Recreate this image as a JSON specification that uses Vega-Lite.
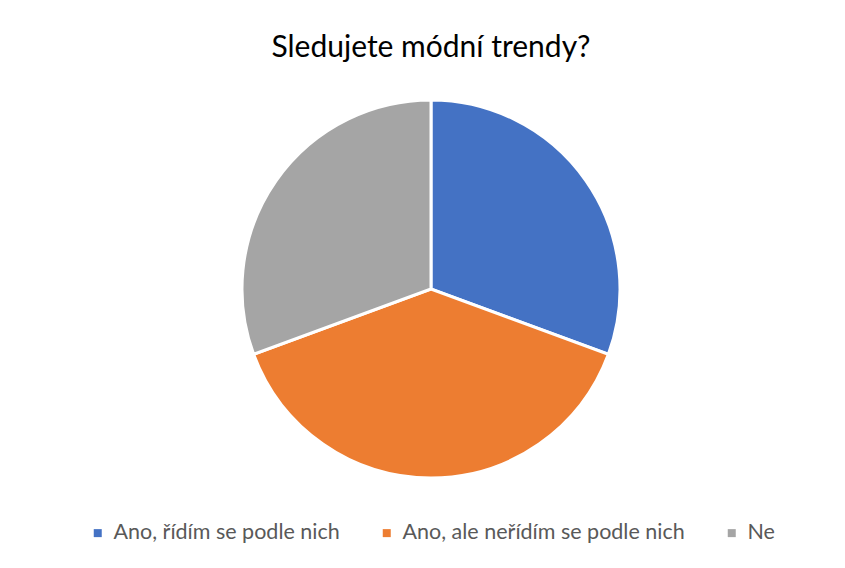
{
  "$schema": "https://vega.github.io/schema/vega-lite/v6.json",
  "autosize": "none",
  "width": 840,
  "height": 563,
  "padding": {"left": 5, "top": 5, "right": 0, "bottom": 0},
  "background": "white",
  "config": {
    "view": {"stroke": "#D9D9D9", "strokeWidth": 1},
    "font": "Lato"
  },
  "title": {
    "text": "Sledujete módní trendy?",
    "frame": "group",
    "anchor": "middle",
    "orient": "top",
    "offset": -58,
    "dx": 6,
    "font": "Lato",
    "fontSize": 30,
    "fontWeight": "normal",
    "color": "#000000"
  },
  "data": {
    "values": [
      {"kategorie": "Ano, řídím se podle nich", "pocet": 15, "poradi": 1},
      {"kategorie": "Ano, ale neřídím se podle nich", "pocet": 19, "poradi": 2},
      {"kategorie": "Ne", "pocet": 15, "poradi": 3}
    ]
  },
  "mark": {"type": "arc", "outerRadius": 189, "stroke": "white", "strokeWidth": 3, "xOffset": 6, "yOffset": 2.5},
  "encoding": {
    "theta": {"field": "pocet", "type": "quantitative", "stack": true},
    "order": {"field": "poradi", "type": "quantitative"},
    "color": {
      "field": "kategorie",
      "type": "nominal",
      "scale": {
        "domain": ["Ano, řídím se podle nich", "Ano, ale neřídím se podle nich", "Ne"],
        "range": ["#4472C4", "#ED7D31", "#A5A5A5"]
      },
      "legend": {
        "title": null,
        "orient": "none",
        "direction": "horizontal",
        "legendX": 82,
        "legendY": 517,
        "symbolType": "square",
        "symbolSize": 64,
        "symbolStrokeWidth": 0,
        "labelFont": "Lato",
        "labelFontSize": 21.5,
        "labelColor": "#595959",
        "labelOffset": 5,
        "columnPadding": 36,
        "labelLimit": 400
      }
    }
  }
}
